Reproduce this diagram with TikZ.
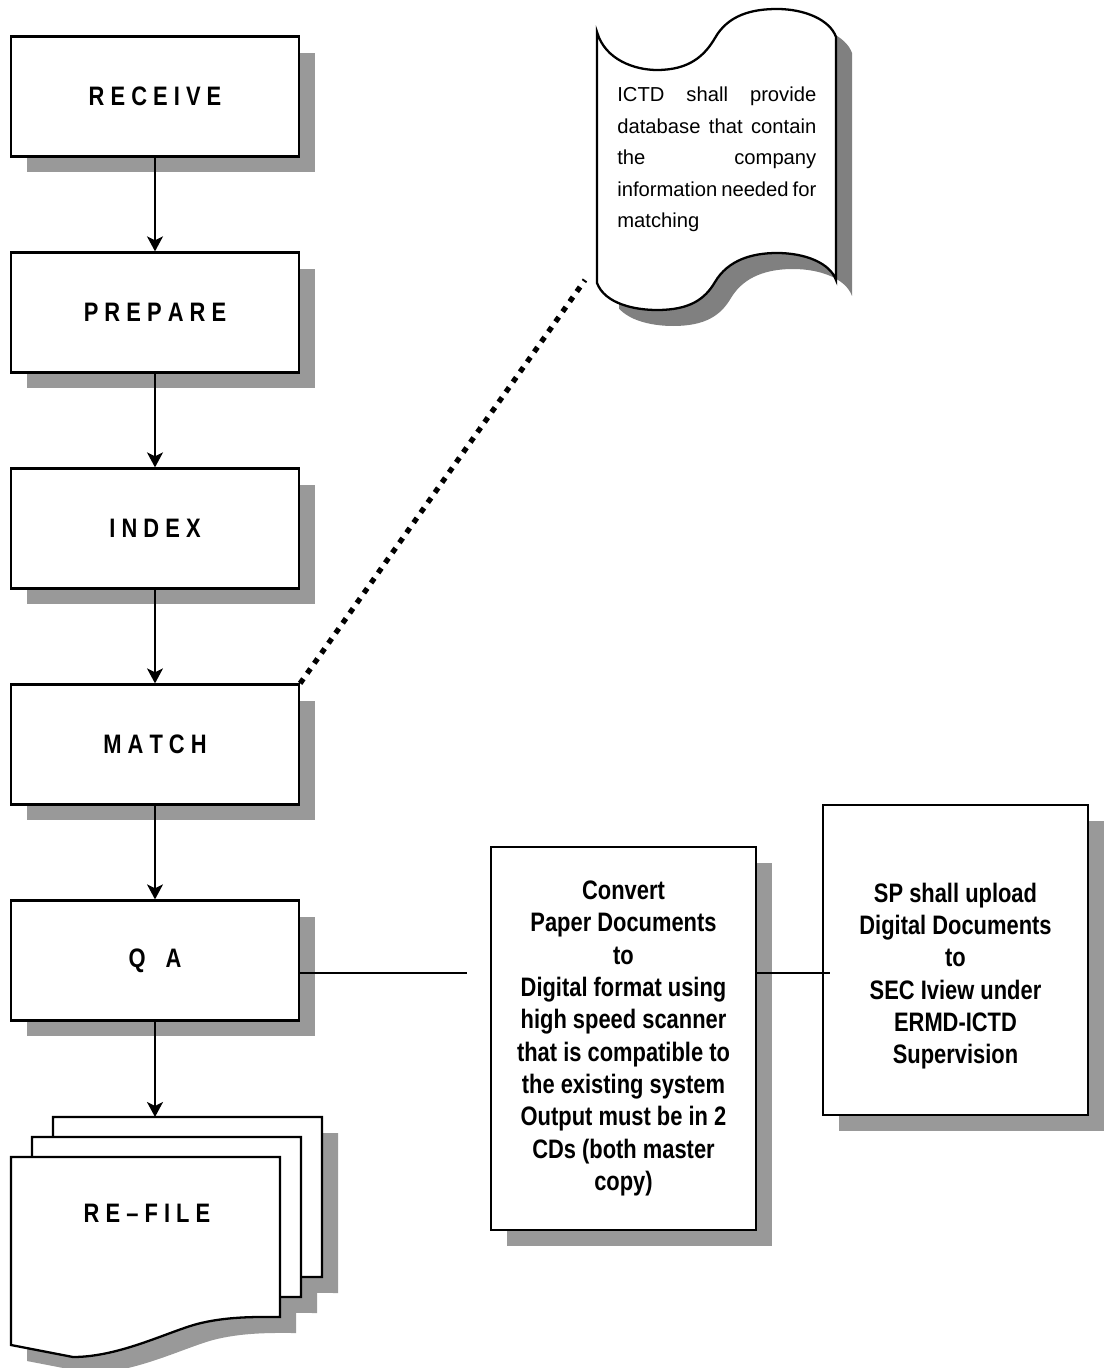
\documentclass[tikz,border=0pt]{standalone}
\usepackage{fontspec}
\setmainfont{Liberation Sans}
\newfontfamily\narrowfont[FakeStretch=0.82]{Liberation Sans}
\usetikzlibrary{arrows.meta,shadows}

\tikzset{
  stepbox/.style = {draw, line width = 1.3pt, fill = white,
    minimum width = 5.76cm, minimum height = 2.4cm,
    font = \narrowfont\bfseries\fontsize{15.2}{18.4}\selectfont,
    drop shadow = {shadow xshift = .32cm, shadow yshift = -.32cm,
      fill = black!40, opacity = 1}},
  notebox/.style = {stepbox, minimum width = 5.3cm, align = center},
  notetext/.style = {align = center,
    font = \narrowfont\bfseries\fontsize{15.2}{18.4}\selectfont},
  flow/.style = {line width = 1pt,
    -{Stealth[length = .3cm, width = .32cm, inset = .08cm]}},
  dotline/.style = {line width = 3pt, dash pattern = on 3.2pt off 3.8pt}
}

\begin{document}
\begin{tikzpicture}[x = .02cm, y = -.02cm]
  \useasboundingbox (0,0) rectangle (1104,1368);

  % main chain
  \node [stepbox] (receive) at (155,96.5)  {R E C E I V E};
  \node [stepbox] (prepare) at (155,312.5) {P R E P A R E};
  \node [stepbox] (index)   at (155,528.5) {I N D E X};
  \node [stepbox] (match)   at (155,744.5) {M A T C H};
  \node [stepbox] (qa)      at (155,960.5) {Q\hspace{.4cm}A};

  % re-file pages
  \foreach \px/\py in {53/1117, 32/1137, 11/1157}
    \fill [black!40, shift = {(\px+16,\py+16)}]
      (0,0) -- (269,0) -- (269,160) .. controls (250,160) and (220,159) ..
      (190,166) .. controls (160,173) and (110,200) .. (62,200) -- (0,188) -- cycle;
  \foreach \px/\py in {53/1117, 32/1137, 11/1157}
    \filldraw [fill = white, line width = 1.3pt, shift = {(\px,\py)}]
      (0,0) -- (269,0) -- (269,160) .. controls (250,160) and (220,159) ..
      (190,166) .. controls (160,173) and (110,200) .. (62,200) -- (0,188) -- cycle;
  \node [notetext] (refile) at (147,1213) {R E \textendash{} F I L E};
  \coordinate (refile-n) at (155,1117);

  \draw [flow] (receive) -- (prepare);
  \draw [flow] (prepare) -- (index);
  \draw [flow] (index) -- (match);
  \draw [flow] (match) -- (qa);
  \draw [flow] (qa) -- (refile-n);

  % database scroll
  \begin{scope}
    \clip (619,0) rectangle (900,400);
    \fill [black!50, shift = {(16,16)}]
      (597,32) .. controls (605,60) and (635,70) .. (657,70)
      .. controls (690,70) and (705,55) .. (715,38)
      .. controls (728,15) and (752,9) .. (777,9)
      .. controls (805,9) and (830,20) .. (836,37) -- (836,280)
      .. controls (830,263) and (805,253) .. (777,253)
      .. controls (752,253) and (728,260) .. (715,282)
      .. controls (705,299) and (690,310) .. (657,310)
      .. controls (635,310) and (605,304) .. (597,283) -- cycle;
  \end{scope}
  \filldraw [fill = white, line width = 1.3pt]
    (597,32) .. controls (605,60) and (635,70) .. (657,70)
    .. controls (690,70) and (705,55) .. (715,38)
    .. controls (728,15) and (752,9) .. (777,9)
    .. controls (805,9) and (830,20) .. (836,37) -- (836,280)
    .. controls (830,263) and (805,253) .. (777,253)
    .. controls (752,253) and (728,260) .. (715,282)
    .. controls (705,299) and (690,310) .. (657,310)
    .. controls (635,310) and (605,304) .. (597,283) -- cycle;
  \node [anchor = north west, inner sep = 0pt, text width = 3.98cm,
    align = justify, font = \fontsize{11.5}{17.9}\selectfont] (ictd) at (617,87)
    {ICTD shall provide\linebreak database that contain\linebreak
     the company\linebreak information needed for\linebreak matching};
  \coordinate (ictd-tip) at (585,280);
  \draw [dotline] (match.north east) -- (ictd-tip);

  % conversion and upload
  \node [notebox, minimum height = 7.66cm] (convert) at (623.5,1038.5)
    {Convert\\Paper Documents\\to\\Digital format using\\high speed scanner\\
     that is compatible to\\the existing system\\Output must be in 2\\
     CDs (both master\\copy)};
  \node [notebox, minimum height = 6.2cm] (upload) at (955.5,960) {};
  \node [notetext] (upload-text) at (955.5,976)
    {SP shall upload\\Digital Documents\\to\\SEC Iview under\\
     ERMD-ICTD\\Supervision};
  \coordinate (qa-end) at (467,973);
  \coordinate (upload-end) at (830,973);
  \draw [line width = 1pt] (qa.east |- qa-end) -- (qa-end);
  \draw [line width = 1pt] (convert.east |- upload-end) -- (upload-end);
\end{tikzpicture}
\end{document}
